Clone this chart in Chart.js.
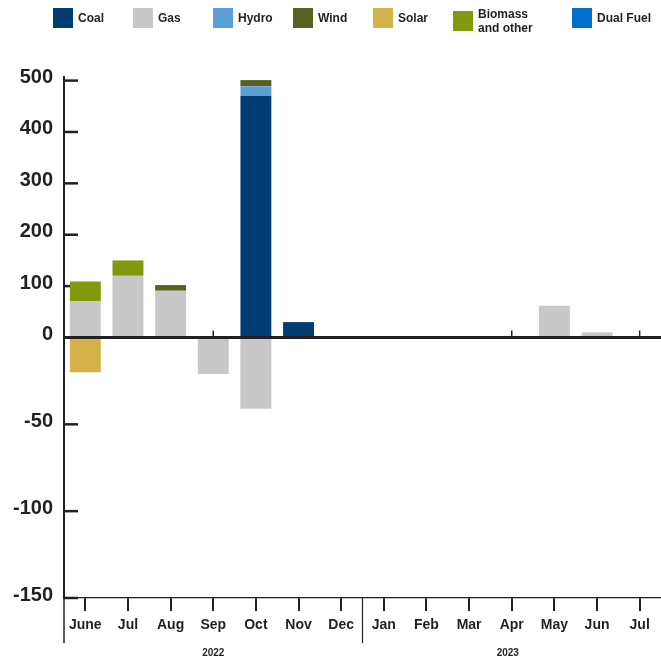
<!DOCTYPE html>
<html>
<head>
<meta charset="utf-8">
<script src="https://cdn.jsdelivr.net/npm/chart.js@4.4.1/dist/chart.umd.min.js"></script>
<style>
  html, body { margin: 0; padding: 0; background: #fff; }
  #wrap { position: relative; width: 661px; height: 660px; }
  #legend { position: absolute; left: 53px; top: 8px; display: flex; font-family: "Liberation Sans", Arial, sans-serif; font-weight: bold; font-size: 12px; color: #231f20; }
  .item { display: flex; align-items: flex-start; width: 80px; }
  .item.wide { width: 119px; }
  .sw { width: 20px; height: 20px; flex: none; margin-right: 5px; }
  .lbl { line-height: 14px; padding-top: 3px; }
  .two .sw { margin-top: 3px; }
  .two .lbl { margin-top: -4px; }
</style>
</head>
<body>
<div id="wrap">
  <canvas id="c" width="661" height="660"></canvas>
  <div id="legend"></div>
</div>
<script>
// ---- data ----
const months = ['June','Jul','Aug','Sep','Oct','Nov','Dec','Jan','Feb','Mar','Apr','May','Jun','Jul'];
const coal     = [null, null, null, null, 470, 30, null, null, null, null, null, null, null, null];
const gas      = [71, 120, 91, -21, -41, null, null, null, null, null, null, 62, 10, null];
const hydro    = [null, null, null, null, 19, null, null, null, null, null, null, null, null, null];
const wind     = [null, null, 11, null, 12, null, null, null, null, null, null, null, null, null];
const solar    = [-20, null, null, null, null, null, null, null, null, null, null, null, null, null];
const biomass  = [38, 30, null, null, null, null, null, null, null, null, null, null, null, null];
const dualFuel = [null, null, null, null, null, null, null, null, null, null, null, null, null, null];
const yTicks = [-150, -100, -50, 0, 100, 200, 300, 400, 500];
const yearGroups = [
  { label: '2022', from: 0, to: 6 },
  { label: '2023', from: 7, to: 13 }
];
const zeroAxisTicks = [3, 10, 13];

const INK = '#231f20';
const series = [
  { label: 'Coal', data: coal, color: '#003d73' },
  { label: 'Gas', data: gas, color: '#c8c8c8' },
  { label: 'Hydro', data: hydro, color: '#5a9fd6' },
  { label: 'Wind', data: wind, color: '#556021' },
  { label: 'Solar', data: solar, color: '#d4b34b' },
  { label: 'Biomass\nand other', data: biomass, color: '#82990c' },
  { label: 'Dual Fuel', data: dualFuel, color: '#0070cc' }
];

// ---- legend (HTML) ----
const leg = document.getElementById('legend');
series.forEach(s => {
  const it = document.createElement('div');
  const two = s.label.includes('\n');
  it.className = 'item' + (two ? ' wide two' : '');
  const sw = document.createElement('div');
  sw.className = 'sw'; sw.style.background = s.color;
  const lb = document.createElement('div');
  lb.className = 'lbl';
  lb.innerHTML = s.label.split('\n').join('<br>');
  it.appendChild(sw); it.appendChild(lb);
  leg.appendChild(it);
});

// ---- split linear scale (different px/unit above and below zero) ----
class SplitScale extends Chart.LinearScale {
  zeroPx() { return this.top + (this.bottom - this.top) * 0.5; }
  getPixelForValue(v) {
    const z = this.zeroPx();
    if (v >= 0) return z - (v / this.max) * (z - this.top);
    return z + (v / this.min) * (this.bottom - z);
  }
  getValueForPixel(p) {
    const z = this.zeroPx();
    if (p <= z) return (z - p) / (z - this.top) * this.max;
    return (p - z) / (this.bottom - z) * this.min;
  }
}
SplitScale.id = 'split';
SplitScale.defaults = Chart.LinearScale.defaults;
Chart.register(SplitScale);

const decorations = {
  id: 'decorations',
  beforeDatasetsDraw(chart) {
    const ctx = chart.ctx, ca = chart.chartArea, y = chart.scales.y;
    ctx.save();
    ctx.strokeStyle = INK;
    ctx.lineWidth = 2.5;
    yTicks.forEach(v => {
      const p = y.getPixelForValue(v);
      ctx.beginPath(); ctx.moveTo(ca.left, p); ctx.lineTo(ca.left + 14, p); ctx.stroke();
    });
    ctx.restore();
  },
  afterDraw(chart) {
    const ctx = chart.ctx, ca = chart.chartArea;
    const x = chart.scales.x, y = chart.scales.y;
    const z = y.getPixelForValue(0);
    ctx.save();
    ctx.strokeStyle = INK;
    // zero line
    ctx.lineWidth = 3;
    ctx.beginPath(); ctx.moveTo(ca.left, z); ctx.lineTo(chart.width, z); ctx.stroke();
    // small ticks on zero line
    ctx.lineWidth = 1.5;
    zeroAxisTicks.forEach(i => {
      const px = x.getPixelForValue(i);
      ctx.beginPath(); ctx.moveTo(px, z - 7); ctx.lineTo(px, z); ctx.stroke();
    });
    // y-axis extension below
    ctx.lineWidth = 1.5;
    ctx.beginPath(); ctx.moveTo(ca.left, ca.bottom); ctx.lineTo(ca.left, ca.bottom + 45); ctx.stroke();
    // year dividers and labels
    ctx.fillStyle = INK;
    ctx.font = 'bold 10px "Liberation Sans", Arial, sans-serif';
    ctx.textAlign = 'center'; ctx.textBaseline = 'middle';
    yearGroups.forEach((g, gi) => {
      const a = x.getPixelForValue(g.from), b = x.getPixelForValue(g.to);
      ctx.fillText(g.label, (a + b) / 2 - (gi > 0 ? 4 : 0), ca.bottom + 55);
      if (gi > 0) {
        const prev = x.getPixelForValue(g.from - 1);
        const dx = (prev + a) / 2;
        ctx.lineWidth = 1.2;
        ctx.beginPath(); ctx.moveTo(dx, ca.bottom); ctx.lineTo(dx, ca.bottom + 45); ctx.stroke();
      }
    });
    ctx.restore();
  }
};

new Chart(document.getElementById('c'), {
  type: 'bar',
  data: {
    labels: months,
    datasets: series.map(s => ({
      label: s.label, data: s.data, backgroundColor: s.color, borderWidth: 0,
      barPercentage: 0.725, categoryPercentage: 1
    }))
  },
  options: {
    responsive: false, animation: false,
    layout: { padding: { top: 77, right: -3, left: 0, bottom: 0 } },
    plugins: { legend: { display: false }, tooltip: { enabled: false } },
    scales: {
      x: {
        stacked: true,
        afterFit: s => { s.height = 62; },
        border: { display: true, color: INK, width: 1.2 },
        grid: { offset: false, drawOnChartArea: false, drawTicks: true, tickLength: 13, color: INK, lineWidth: 2 },
        ticks: { autoSkip: false, maxRotation: 0, padding: 6, color: INK,
                 font: { family: '"Liberation Sans", Arial, sans-serif', weight: 'bold', size: 14 } }
      },
      y: {
        type: 'split', stacked: true, min: -150, max: 507,
        afterFit: s => { s.width = 64; },
        afterBuildTicks: s => { s.ticks = yTicks.map(v => ({ value: v })); },
        border: { display: true, color: INK, width: 2 },
        grid: { display: false, drawTicks: false },
        ticks: { padding: 11, color: INK, labelOffset: -3,
                 font: { family: '"Liberation Sans", Arial, sans-serif', weight: 'bold', size: 20 } }
      }
    }
  },
  plugins: [decorations]
});
</script>
</body>
</html>
